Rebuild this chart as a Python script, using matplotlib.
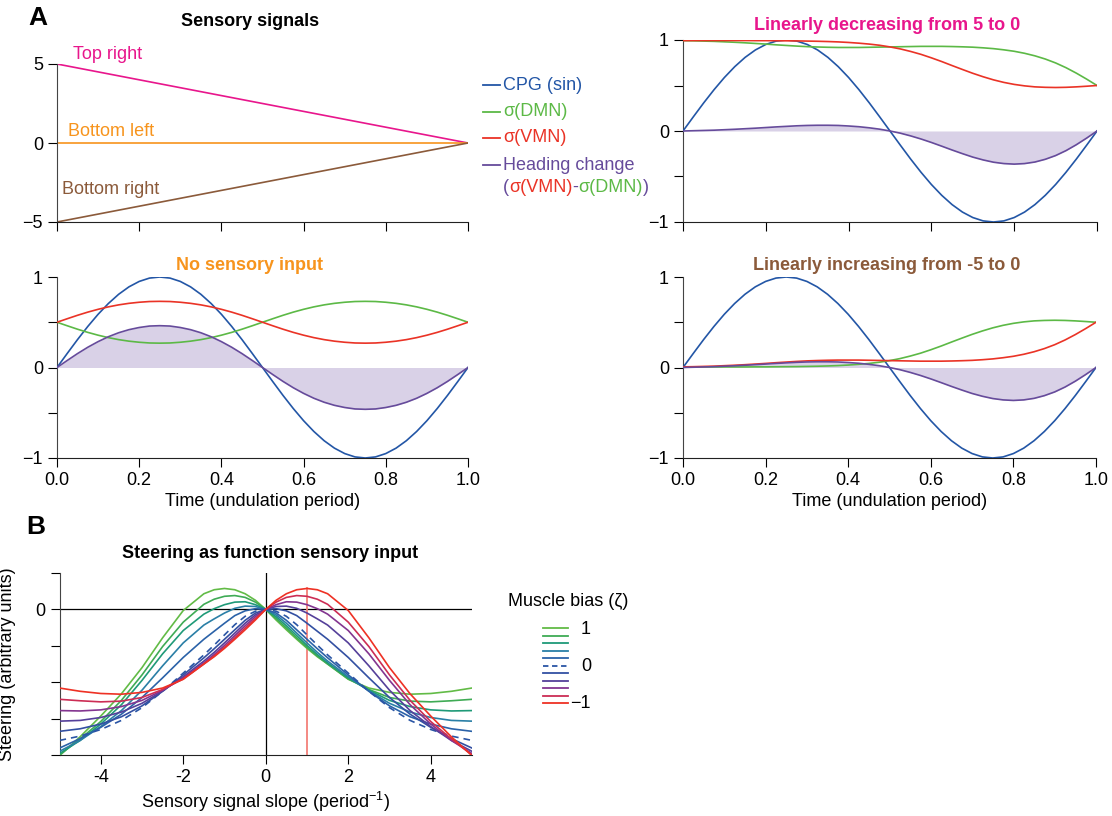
import numpy as np
import matplotlib
matplotlib.use("Agg")
import matplotlib.pyplot as plt
from matplotlib.lines import Line2D

plt.rcParams['font.family'] = ['Liberation Sans', 'DejaVu Sans']
plt.rcParams['mathtext.fontset'] = 'custom'
plt.rcParams['mathtext.rm'] = 'Liberation Sans'
plt.rcParams['font.size'] = 13
plt.rcParams['axes.linewidth'] = 0.8
plt.rcParams['xtick.major.size'] = 6.5
plt.rcParams['ytick.major.size'] = 6.5
plt.rcParams['xtick.major.width'] = 0.8
plt.rcParams['ytick.major.width'] = 0.8

W, H = 1112, 816

# ---- panel A data (one undulation period, 41 samples) ----
t = np.linspace(0, 1, 41)
cpg = [0.000, 0.156, 0.309, 0.454, 0.588, 0.707, 0.809, 0.891, 0.951, 0.988, 1.000,
       0.988, 0.951, 0.891, 0.809, 0.707, 0.588, 0.454, 0.309, 0.156, 0.000,
       -0.156, -0.309, -0.454, -0.588, -0.707, -0.809, -0.891, -0.951, -0.988, -1.000,
       -0.988, -0.951, -0.891, -0.809, -0.707, -0.588, -0.454, -0.309, -0.156, 0.000]

# no sensory input
vmn_none = [0.500, 0.539, 0.577, 0.612, 0.643, 0.670, 0.692, 0.709, 0.721, 0.729, 0.731,
            0.729, 0.721, 0.709, 0.692, 0.670, 0.643, 0.612, 0.577, 0.539, 0.500,
            0.461, 0.423, 0.388, 0.357, 0.330, 0.308, 0.291, 0.279, 0.271, 0.269,
            0.271, 0.279, 0.291, 0.308, 0.330, 0.357, 0.388, 0.423, 0.461, 0.500]
dmn_none = [0.500, 0.461, 0.423, 0.388, 0.357, 0.330, 0.308, 0.291, 0.279, 0.271, 0.269,
            0.271, 0.279, 0.291, 0.308, 0.330, 0.357, 0.388, 0.423, 0.461, 0.500,
            0.539, 0.577, 0.612, 0.643, 0.670, 0.692, 0.709, 0.721, 0.729, 0.731,
            0.729, 0.721, 0.709, 0.692, 0.670, 0.643, 0.612, 0.577, 0.539, 0.500]

# linearly decreasing from 5 to 0
vmn_dec = [0.993, 0.994, 0.994, 0.994, 0.994, 0.994, 0.994, 0.993, 0.993, 0.992, 0.991,
           0.990, 0.988, 0.986, 0.983, 0.979, 0.973, 0.965, 0.955, 0.942, 0.924,
           0.902, 0.874, 0.842, 0.804, 0.763, 0.719, 0.676, 0.634, 0.596, 0.562,
           0.534, 0.512, 0.496, 0.485, 0.480, 0.478, 0.480, 0.485, 0.492, 0.500]
dmn_dec = [0.993, 0.991, 0.988, 0.985, 0.980, 0.975, 0.969, 0.962, 0.955, 0.947, 0.940,
           0.933, 0.927, 0.923, 0.920, 0.918, 0.918, 0.918, 0.920, 0.922, 0.924,
           0.926, 0.928, 0.930, 0.930, 0.930, 0.928, 0.925, 0.921, 0.914, 0.905,
           0.892, 0.876, 0.854, 0.826, 0.791, 0.748, 0.696, 0.636, 0.570, 0.500]

# linearly increasing from -5 to 0
vmn_inc = [0.007, 0.009, 0.012, 0.015, 0.020, 0.025, 0.031, 0.038, 0.045, 0.053, 0.060,
           0.067, 0.073, 0.077, 0.080, 0.082, 0.082, 0.082, 0.080, 0.078, 0.076,
           0.074, 0.072, 0.070, 0.070, 0.070, 0.072, 0.075, 0.079, 0.086, 0.095,
           0.108, 0.124, 0.146, 0.174, 0.209, 0.252, 0.304, 0.364, 0.430, 0.500]
dmn_inc = [0.007, 0.006, 0.006, 0.006, 0.006, 0.006, 0.006, 0.007, 0.007, 0.008, 0.009,
           0.010, 0.012, 0.014, 0.017, 0.021, 0.027, 0.035, 0.045, 0.058, 0.076,
           0.098, 0.126, 0.158, 0.196, 0.237, 0.281, 0.324, 0.366, 0.404, 0.438,
           0.466, 0.488, 0.504, 0.515, 0.520, 0.522, 0.520, 0.515, 0.508, 0.500]

# sensory signals
t_sig = [0, 1]
sig_top_right = [5, 0]
sig_bottom_left = [0, 0]
sig_bottom_right = [-5, 0]

# ---- panel B data ----
slope = [-5, -4.5, -4, -3.5, -3, -2.5, -2, -1.5, -1.25, -1, -0.75, -0.5, -0.25, 0,
         0.25, 0.5, 0.75, 1, 1.25, 1.5, 2, 2.5, 3, 3.5, 4, 4.5, 5]
zeta = [1, 0.8, 0.6, 0.4, 0.2, 0, -0.2, -0.4, -0.6, -0.8, -1]
steer = [
    [-4.02, -3.50, -2.93, -2.32, -1.60, -0.78, -0.03, 0.43, 0.54, 0.575, 0.54, 0.43, 0.25, 0,
     -0.29, -0.56, -0.82, -1.07, -1.30, -1.50, -1.92, -2.16, -2.28, -2.33, -2.31, -2.25, -2.16],
    [-4.00, -3.56, -3.08, -2.50, -1.80, -1.02, -0.35, 0.14, 0.28, 0.36, 0.38, 0.33, 0.20, 0,
     -0.25, -0.51, -0.78, -1.04, -1.28, -1.50, -1.91, -2.20, -2.42, -2.52, -2.54, -2.51, -2.47],
    [-3.96, -3.60, -3.15, -2.62, -1.95, -1.22, -0.58, -0.13, 0.02, 0.13, 0.20, 0.21, 0.13, 0,
     -0.20, -0.45, -0.72, -0.99, -1.24, -1.47, -1.88, -2.22, -2.50, -2.67, -2.76, -2.79, -2.78],
    [-3.90, -3.60, -3.22, -2.78, -2.22, -1.55, -0.92, -0.43, -0.26, -0.10, 0.03, 0.09, 0.08, 0,
     -0.15, -0.38, -0.65, -0.92, -1.18, -1.42, -1.85, -2.24, -2.58, -2.82, -2.97, -3.05, -3.07],
    [-3.81, -3.55, -3.24, -2.88, -2.42, -1.88, -1.32, -0.82, -0.60, -0.38, -0.17, -0.04, 0.02, 0,
     -0.10, -0.30, -0.56, -0.82, -1.08, -1.33, -1.80, -2.25, -2.65, -2.95, -3.15, -3.28, -3.35],
    [-3.60, -3.48, -3.30, -3.05, -2.70, -2.25, -1.75, -1.25, -0.98, -0.70, -0.42, -0.19, -0.05, 0,
     -0.05, -0.19, -0.42, -0.70, -0.98, -1.25, -1.75, -2.25, -2.70, -3.05, -3.30, -3.48, -3.60],
    [-3.35, -3.28, -3.15, -2.95, -2.65, -2.25, -1.80, -1.33, -1.08, -0.82, -0.56, -0.30, -0.10, 0,
     0.02, -0.04, -0.17, -0.38, -0.60, -0.82, -1.32, -1.88, -2.42, -2.88, -3.24, -3.55, -3.81],
    [-3.07, -3.05, -2.97, -2.82, -2.58, -2.24, -1.85, -1.42, -1.18, -0.92, -0.65, -0.38, -0.15, 0,
     0.08, 0.09, 0.03, -0.10, -0.26, -0.43, -0.92, -1.55, -2.22, -2.78, -3.22, -3.60, -3.90],
    [-2.78, -2.79, -2.76, -2.67, -2.50, -2.22, -1.88, -1.47, -1.24, -0.99, -0.72, -0.45, -0.20, 0,
     0.13, 0.21, 0.20, 0.13, 0.02, -0.13, -0.58, -1.22, -1.95, -2.62, -3.15, -3.60, -3.96],
    [-2.47, -2.51, -2.54, -2.52, -2.42, -2.20, -1.91, -1.50, -1.28, -1.04, -0.78, -0.51, -0.25, 0,
     0.20, 0.33, 0.38, 0.36, 0.28, 0.14, -0.35, -1.02, -1.80, -2.50, -3.08, -3.56, -4.00],
    [-2.16, -2.25, -2.31, -2.33, -2.28, -2.16, -1.92, -1.50, -1.30, -1.07, -0.82, -0.56, -0.29, 0,
     0.25, 0.43, 0.54, 0.575, 0.54, 0.43, -0.03, -0.78, -1.60, -2.32, -2.93, -3.50, -4.02],
]
zeta_colors = ['#62bb46', '#3fab55', '#1f9a78', '#2a7fa6', '#2b62a8', '#2a55a5',
               '#3350a2', '#55409a', '#833590', '#cc2d55', '#ee3124']

C_CPG, C_DMN, C_VMN, C_HEAD, C_FILL = '#2356a6', '#5cb946', '#ea3326', '#664b9b', '#d9d1e7'
C_TR, C_BL, C_BR = '#e8168c', '#f7941d', '#8b5a3a'


def px(x, y):
    return x / W, 1 - y / H


def style(ax):
    for s in ['top', 'right']:
        ax.spines[s].set_visible(False)
    ax.spines['left'].set_color('#444444')
    ax.spines['bottom'].set_color('#222222')


def muscle_panel(ax, vmn, dmn, show_x):
    vmn = np.array(vmn)
    dmn = np.array(dmn)
    head = vmn - dmn
    ax.fill_between(t, head, 0, color=C_FILL, lw=0, zorder=1)
    ax.plot(t, cpg, color=C_CPG, lw=1.2, zorder=3)
    ax.plot(t, dmn, color=C_DMN, lw=1.2, zorder=3)
    ax.plot(t, vmn, color=C_VMN, lw=1.2, zorder=3)
    ax.plot(t, head, color=C_HEAD, lw=1.2, zorder=4)
    ax.set_xlim(0, 1)
    ax.set_ylim(-1, 1)
    ax.set_yticks([-1, -0.5, 0, 0.5, 1])
    ax.set_yticklabels(['\u22121', '', '0', '', '1'])
    ax.set_xticks([0, 0.2, 0.4, 0.6, 0.8, 1.0])
    if show_x:
        ax.set_xticklabels(['0.0', '0.2', '0.4', '0.6', '0.8', '1.0'])
        ax.set_xlabel('Time (undulation period)', labelpad=3)
    else:
        ax.set_xticklabels([])
    style(ax)


fig = plt.figure(figsize=(W / 100, H / 100), dpi=100)

# sensory signals
ax_sig = fig.add_axes([57 / W, 1 - 222 / H, 411 / W, 158 / H])
ax_sig.plot(t_sig, sig_top_right, color=C_TR, lw=1.2)
ax_sig.plot(t_sig, sig_bottom_left, color=C_BL, lw=1.2)
ax_sig.plot(t_sig, sig_bottom_right, color=C_BR, lw=1.2)
ax_sig.set_xlim(0, 1)
ax_sig.set_ylim(-5, 5)
ax_sig.set_yticks([-5, 0, 5])
ax_sig.set_xticks([0, 0.2, 0.4, 0.6, 0.8, 1.0])
ax_sig.set_xticklabels([])
style(ax_sig)
ax_sig.text(0.04, 5.6, 'Top right', color=C_TR, va='center', clip_on=False)
ax_sig.text(0.027, 0.75, 'Bottom left', color=C_BL, va='center', clip_on=False)
ax_sig.text(0.012, -2.95, 'Bottom right', color=C_BR, va='center', clip_on=False)

ax_dec = fig.add_axes([683 / W, 1 - 222 / H, 414 / W, 182 / H])
muscle_panel(ax_dec, vmn_dec, dmn_dec, False)
ax_none = fig.add_axes([57 / W, 1 - 458 / H, 411 / W, 181 / H])
muscle_panel(ax_none, vmn_none, dmn_none, True)
ax_inc = fig.add_axes([683 / W, 1 - 458 / H, 413 / W, 181 / H])
muscle_panel(ax_inc, vmn_inc, dmn_inc, True)

# panel B
ax_b = fig.add_axes([59.5 / W, 1 - 755 / H, 412.5 / W, 182 / H])
ax_b.axhline(0, color='black', lw=0.9, zorder=1)
ax_b.axvline(0, color='black', lw=0.9, zorder=1)
red_curve = steer[-1]
i_pk = int(np.argmax(red_curve))
ax_b.plot([slope[i_pk]] * 2, [-4, red_curve[i_pk]], color='#f3807a', lw=1.3, zorder=2)
for z, ys, c in zip(zeta, steer, zeta_colors):
    ls = (0, (4, 3)) if z == 0 else '-'
    ax_b.plot(slope, ys, color=c, lw=1.2, ls=ls, zorder=3)
ax_b.set_xlim(-5, 5)
ax_b.set_ylim(-4, 1)
ax_b.set_xticks([-4, -2, 0, 2, 4])
ax_b.set_xticklabels(['-4', '-2', '0', '2', '4'])
ax_b.set_yticks([-4, -3, -2, -1, 0, 1])
ax_b.set_yticklabels(['', '', '', '', '0', ''])
ax_b.set_xlabel('Sensory signal slope (period$^{\\mathregular{-1}}$)', labelpad=3)
ax_b.set_ylabel('Steering (arbitrary units)', labelpad=14)
style(ax_b)

# titles and panel letters
fig.text(*px(38, 18), 'A', fontsize=19, fontweight='bold', ha='center', va='center')
fig.text(*px(36, 527), 'B', fontsize=19, fontweight='bold', ha='center', va='center')
fig.text(*px(250, 22), 'Sensory signals', fontweight='bold', ha='center', va='center')
fig.text(*px(887, 25), 'Linearly decreasing from 5 to 0', color=C_TR,
         fontweight='bold', ha='center', va='center')
fig.text(*px(250, 266), 'No sensory input', color=C_BL,
         fontweight='bold', ha='center', va='center')
fig.text(*px(887, 266), 'Linearly increasing from -5 to 0', color=C_BR,
         fontweight='bold', ha='center', va='center')
fig.text(*px(270, 553), 'Steering as function sensory input',
         fontweight='bold', ha='center', va='center')

# legend A
renderer = fig.canvas.get_renderer()
leg_rows = [('CPG (sin)', C_CPG, 85), ('\u03c3(DMN)', C_DMN, 112),
            ('\u03c3(VMN)', C_VMN, 138), ('Heading change', C_HEAD, 165)]
for label, c, y in leg_rows:
    fig.add_artist(Line2D([483 / W, 500 / W], [1 - y / H] * 2, color=c, lw=1.3,
                          transform=fig.transFigure))
    fig.text(*px(503, y), label, color=c, va='center')
x = 503
for s, c in [('(', C_HEAD), ('\u03c3(VMN)', C_VMN), ('-', C_HEAD),
             ('\u03c3(DMN)', C_DMN), (')', C_HEAD)]:
    tt = fig.text(*px(x, 187), s, color=c, va='center')
    x += tt.get_window_extent(renderer=renderer).width

# legend B
fig.text(*px(568, 602), 'Muscle bias (\u03b6)', ha='center', va='center')
for i, (z, c) in enumerate(zip(zeta, zeta_colors)):
    y = 628 + 7.5 * i
    ls = (0, (3, 2)) if z == 0 else '-'
    fig.add_artist(Line2D([543 / W, 568 / W], [1 - y / H] * 2, color=c, lw=1.3, ls=ls,
                          transform=fig.transFigure))
    if z in (1, 0, -1):
        lab = '\u22121' if z == -1 else str(z)
        fig.text(*px(591, y + 1), lab, ha='right', va='center')

fig.savefig('out.png', dpi=100)
